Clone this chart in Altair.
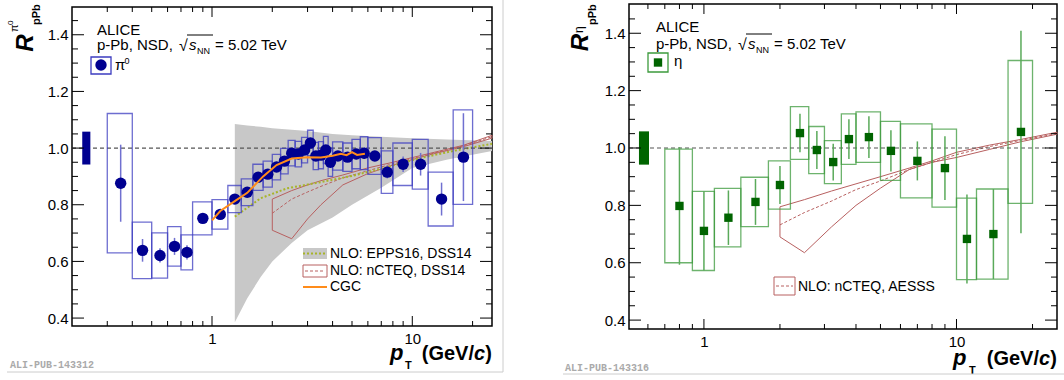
import altair as alt
import pandas as pd

FONT = "Liberation Sans"

# ---------------- pi0 panel data ----------------
pi0_pt = [0.35, 0.45, 0.55, 0.65, 0.75, 0.9, 1.1, 1.3, 1.5, 1.7, 1.9, 2.1, 2.3, 2.5, 2.7, 2.9,
          3.1, 3.3, 3.5, 3.7, 3.9, 4.25, 4.75, 5.25, 5.75, 6.5, 7.5, 9.0, 11.0, 14.0, 18.0]
pi0_r = [0.876, 0.639, 0.621, 0.653, 0.632, 0.752, 0.766, 0.82, 0.844, 0.897, 0.908, 0.933, 0.954,
         0.982, 0.979, 0.993, 1.018, 0.972, 0.975, 0.993, 0.95, 0.972, 0.968, 0.979, 0.982, 0.972,
         0.915, 0.943, 0.943, 0.82, 0.968]
pi0_stat = [0.136, 0.04, 0.025, 0.03, 0.025, 0.015, 0.015, 0.015, 0.012, 0.012, 0.012, 0.012, 0.012,
            0.012, 0.012, 0.012, 0.014, 0.015, 0.015, 0.018, 0.02, 0.015, 0.016, 0.018, 0.02, 0.015,
            0.022, 0.027, 0.04, 0.058, 0.155]
pi0_sys = [0.246, 0.1, 0.08, 0.07, 0.062, 0.058, 0.052, 0.048, 0.047, 0.046, 0.046, 0.045, 0.045,
           0.045, 0.045, 0.045, 0.045, 0.048, 0.048, 0.048, 0.05, 0.05, 0.05, 0.052, 0.058, 0.065,
           0.075, 0.075, 0.088, 0.095, 0.167]
pi0_bin_lo = [0.3, 0.4, 0.5, 0.6, 0.7, 0.8, 1.0, 1.2, 1.4, 1.6, 1.8, 2.0, 2.2, 2.4, 2.6, 2.8,
              3.0, 3.2, 3.4, 3.6, 3.8, 4.0, 4.5, 5.0, 5.5, 6.0, 7.0, 8.0, 10.0, 12.0, 16.0]
pi0_bin_hi = [0.4, 0.5, 0.6, 0.7, 0.8, 1.0, 1.2, 1.4, 1.6, 1.8, 2.0, 2.2, 2.4, 2.6, 2.8, 3.0,
              3.2, 3.4, 3.6, 3.8, 4.0, 4.5, 5.0, 5.5, 6.0, 7.0, 8.0, 10.0, 12.0, 16.0, 20.0]

# EPPS16 band + central
epps_pt = [1.3, 1.5, 1.75, 2.0, 2.5, 3.0, 4.0, 5.0, 7.0, 10.0, 15.0, 25.0]
epps_lo = [0.385, 0.47, 0.545, 0.6, 0.665, 0.71, 0.755, 0.8, 0.86, 0.93, 0.96, 0.99]
epps_hi = [1.085, 1.08, 1.075, 1.07, 1.065, 1.06, 1.05, 1.045, 1.04, 1.035, 1.03, 1.025]
epps_c_pt = [1.3, 1.75, 2.37, 3.5, 5.1, 7.5, 11.0, 16.0, 25.0]
epps_c = [0.758, 0.823, 0.858, 0.88, 0.903, 0.933, 0.965, 0.99, 1.015]

# nCTEQ (pi0)
ncq1_pt = [2.0, 2.5, 3.0, 3.5, 4.5, 6.0, 8.0, 12.0, 18.0, 25.0]
ncq1_hi = [0.82, 0.85, 0.87, 0.885, 0.905, 0.93, 0.95, 0.98, 1.01, 1.045]
ncq1_lo = [0.71, 0.68, 0.75, 0.8, 0.87, 0.91, 0.94, 0.975, 1.005, 1.035]
ncq1_c = [0.77, 0.82, 0.845, 0.865, 0.895, 0.92, 0.945, 0.977, 1.008, 1.04]

# CGC
cgc_pt = [1.0, 1.1, 1.3, 1.5, 1.8, 2.1, 2.5, 3.0, 3.5, 4.0, 4.4, 4.7, 5.0, 5.3, 5.8]
cgc_r = [0.745, 0.778, 0.813, 0.842, 0.9, 0.94, 0.963, 0.968, 0.967, 0.973, 0.98, 0.975, 0.986,
         0.976, 0.98]

# ---------------- eta panel data ----------------
eta_pt = [0.8, 1.0, 1.25, 1.6, 2.0, 2.4, 2.8, 3.25, 3.75, 4.5, 5.5, 7.0, 9.0, 11.0, 14.0, 18.0]
eta_r = [0.798, 0.711, 0.757, 0.812, 0.871, 1.052, 0.993, 0.951, 1.031, 1.038, 0.99, 0.955, 0.93,
         0.683, 0.7, 1.056]
eta_stat = [0.205, 0.138, 0.095, 0.08, 0.066, 0.067, 0.066, 0.064, 0.069, 0.073, 0.072, 0.068, 0.111,
            0.155, 0.157, 0.353]
eta_sys = [0.198, 0.138, 0.102, 0.086, 0.084, 0.092, 0.082, 0.075, 0.088, 0.088, 0.103, 0.129, 0.136,
           0.142, 0.157, 0.249]
eta_bin_lo = [0.7, 0.9, 1.1, 1.4, 1.8, 2.2, 2.6, 3.0, 3.5, 4.0, 5.0, 6.0, 8.0, 10.0, 12.0, 16.0]
eta_bin_hi = [0.9, 1.1, 1.4, 1.8, 2.2, 2.6, 3.0, 3.5, 4.0, 5.0, 6.0, 8.0, 10.0, 12.0, 16.0, 20.0]

# nCTEQ (eta)
ncq2_pt = [2.0, 2.5, 3.2, 4.0, 5.0, 6.5, 8.0, 10.0, 13.5, 18.0, 25.0]
ncq2_hi = [0.795, 0.82, 0.85, 0.875, 0.9, 0.93, 0.955, 0.985, 1.01, 1.03, 1.055]
ncq2_lo = [0.69, 0.635, 0.725, 0.8, 0.86, 0.925, 0.95, 0.967, 0.995, 1.022, 1.048]
ncq2_c = [0.732, 0.775, 0.815, 0.855, 0.885, 0.925, 0.95, 0.977, 1.005, 1.027, 1.05]

# normalisation boxes
norm1_pt = [0.225, 0.247]
norm2_pt = [0.553, 0.606]
norm_r = [0.942, 1.058]

# ticks
y_major = [0.4, 0.6, 0.8, 1.0, 1.2, 1.4]
y_minor = [0.45, 0.5, 0.55, 0.65, 0.7, 0.75, 0.85, 0.9, 0.95, 1.05, 1.1, 1.15, 1.25, 1.3, 1.35, 1.45]
x_major = [1, 10]
x_minor1 = [0.3, 0.4, 0.5, 0.6, 0.7, 0.8, 0.9, 2, 3, 4, 5, 6, 7, 8, 9, 20]
x_minor2 = [0.6, 0.7, 0.8, 0.9, 2, 3, 4, 5, 6, 7, 8, 9, 20]

BLUE = "#000090"
GREEN = "#006400"
BROWN = "#b86060"
ORANGE = "#ff8c1a"
OLIVE = "#a8b42a"


def points_df(pt, r, stat, sys, blo, bhi):
    return pd.DataFrame({
        "pt": pt, "r": r,
        "slo": [a - b for a, b in zip(r, stat)], "shi": [a + b for a, b in zip(r, stat)],
        "ylo": [a - b for a, b in zip(r, sys)], "yhi": [a + b for a, b in zip(r, sys)],
        "blo": blo, "bhi": bhi,
    })


def polygon_df(pt, hi, lo):
    xs = list(pt) + list(reversed(pt)) + [pt[0]]
    ys = list(hi) + list(reversed(lo)) + [hi[0]]
    return pd.DataFrame({"pt": xs, "r": ys, "o": list(range(len(xs)))})


def txt(s, x, y, size=15, weight="normal", style="normal", align="left",
        baseline="alphabetic", angle=0, color="black", font=FONT):
    return alt.Chart(pd.DataFrame({"t": [s]})).mark_text(
        align=align, baseline=baseline, fontSize=size, fontWeight=weight,
        fontStyle=style, angle=angle, color=color, font=font
    ).encode(text="t:N", x=alt.value(x), y=alt.value(y))


def hline(x1, x2, y, color, width=1.0, dash=None):
    kw = dict(color=color, strokeWidth=width)
    if dash:
        kw["strokeDash"] = dash
    return alt.Chart(pd.DataFrame({"a": [0]})).mark_rule(**kw).encode(
        x=alt.value(x1), x2=alt.value(x2), y=alt.value(y))


def vline(x, y1, y2, color, width=1.0):
    return alt.Chart(pd.DataFrame({"a": [0]})).mark_rule(color=color, strokeWidth=width).encode(
        x=alt.value(x), y=alt.value(y1), y2=alt.value(y2))


def box(x1, x2, y1, y2, fill=None, stroke=None, sw=1.0):
    kw = dict(strokeWidth=sw)
    if fill:
        kw["fill"] = fill
    else:
        kw["fillOpacity"] = 0
        kw["fill"] = "white"
    if stroke:
        kw["stroke"] = stroke
    return alt.Chart(pd.DataFrame({"a": [0]})).mark_rect(**kw).encode(
        x=alt.value(x1), x2=alt.value(x2), y=alt.value(y1), y2=alt.value(y2))


def build_panel(W, H, xdom, ydom, df, color, box_color, stat_color, shape, norm_pt,
                theory_layers, top_layers, x_minor):
    xs = alt.Scale(type="log", domain=xdom, nice=False)
    ys = alt.Scale(domain=ydom, nice=False, zero=False)
    xax = alt.Axis(values=x_major, format="~g", labelFontSize=15, labelFont=FONT,
                   labelColor="black", ticks=False, tickSize=0, domain=False, grid=False,
                   labelPadding=5, labelFlush=False, labelOverlap=False, title=None)
    yax = alt.Axis(values=y_major, format=".1f", labelFontSize=15, labelFont=FONT,
                   labelColor="black", ticks=False, tickSize=0, domain=False, grid=False,
                   labelPadding=4, labelFlush=False, labelOverlap=False, title=None)

    def X(f):
        return alt.X(f, type="quantitative", scale=xs, axis=xax)

    def Y(f):
        return alt.Y(f, type="quantitative", scale=ys, axis=yax)

    def theory(spec):
        out = []
        for kind, d, kw in spec:
            if kind == "band":
                out.append(alt.Chart(d).mark_area(**kw).encode(x=X("pt"), y=Y("lo"), y2="hi"))
            else:
                out.append(alt.Chart(d).mark_line(**kw).encode(x=X("pt"), y=Y("r"), order="o:Q"))
        return out

    layers = theory(theory_layers)
    # reference line at 1
    layers.append(alt.Chart(pd.DataFrame({"v": [1.0]})).mark_rule(
        color="#555555", strokeWidth=1.2, strokeDash=[4, 3]).encode(
        y=Y("v"), x=alt.value(0), x2=alt.value(W)))
    # systematic boxes
    layers.append(alt.Chart(df).mark_rect(fill="white", fillOpacity=0, stroke=box_color,
                                          strokeOpacity=0.75, strokeWidth=1.3).encode(
        x=X("blo"), x2="bhi", y=Y("ylo"), y2="yhi"))
    # stat bars
    layers.append(alt.Chart(df).mark_rule(color=stat_color, strokeWidth=1.5).encode(
        x=X("pt"), y=Y("slo"), y2="shi"))
    # points
    if shape == "circle":
        layers.append(alt.Chart(df).mark_circle(size=130, color=color, opacity=1).encode(
            x=X("pt"), y=Y("r")))
    else:
        layers.append(alt.Chart(df).mark_square(size=70, color=color, opacity=1).encode(
            x=X("pt"), y=Y("r")))
    layers += theory(top_layers)
    # normalisation box
    ndf = pd.DataFrame({"x1": [norm_pt[0]], "x2": [norm_pt[1]], "y1": [norm_r[0]], "y2": [norm_r[1]]})
    layers.append(alt.Chart(ndf).mark_rect(color=color).encode(
        x=X("x1"), x2="x2", y=Y("y1"), y2="y2"))
    # inward ticks
    ymaj = pd.DataFrame({"v": y_major})
    ymin = pd.DataFrame({"v": y_minor})
    xmaj = pd.DataFrame({"v": x_major})
    xmin = pd.DataFrame({"v": x_minor})
    tk = dict(color="black", strokeWidth=1)
    layers += [
        alt.Chart(ymaj).mark_rule(**tk).encode(y=Y("v"), x=alt.value(0), x2=alt.value(12)),
        alt.Chart(ymin).mark_rule(**tk).encode(y=Y("v"), x=alt.value(0), x2=alt.value(6)),
        alt.Chart(ymaj).mark_rule(**tk).encode(y=Y("v"), x=alt.value(W), x2=alt.value(W - 12)),
        alt.Chart(ymin).mark_rule(**tk).encode(y=Y("v"), x=alt.value(W), x2=alt.value(W - 6)),
        alt.Chart(xmaj).mark_rule(**tk).encode(x=X("v"), y=alt.value(H), y2=alt.value(H - 10)),
        alt.Chart(xmin).mark_rule(**tk).encode(x=X("v"), y=alt.value(H), y2=alt.value(H - 5)),
        alt.Chart(xmaj).mark_rule(**tk).encode(x=X("v"), y=alt.value(0), y2=alt.value(10)),
        alt.Chart(xmin).mark_rule(**tk).encode(x=X("v"), y=alt.value(0), y2=alt.value(5)),
    ]
    return layers


# ---------- left panel ----------
W1, H1 = 420, 319
df1 = points_df(pi0_pt, pi0_r, pi0_stat, pi0_sys, pi0_bin_lo, pi0_bin_hi)
band_df = pd.DataFrame({"pt": epps_pt, "lo": epps_lo, "hi": epps_hi})
eppsc_df = pd.DataFrame({"pt": epps_c_pt, "r": epps_c, "o": list(range(len(epps_c)))})
ncq1_poly = polygon_df(ncq1_pt, ncq1_hi, ncq1_lo)
ncq1_cdf = pd.DataFrame({"pt": ncq1_pt, "r": ncq1_c, "o": list(range(len(ncq1_c)))})
cgc_df = pd.DataFrame({"pt": cgc_pt, "r": cgc_r, "o": list(range(len(cgc_r)))})

theory1 = [
    ("band", band_df, dict(color="#c8c8c8", opacity=1)),
    ("line", ncq1_poly, dict(color=BROWN, strokeWidth=1)),
    ("line", ncq1_cdf, dict(color=BROWN, strokeWidth=1, strokeDash=[3, 2])),
    ("line", eppsc_df, dict(color=OLIVE, strokeWidth=2, strokeDash=[2, 2])),
]
top1 = [("line", cgc_df, dict(color=ORANGE, strokeWidth=2))]
layers1 = build_panel(W1, H1, [0.2, 25], [0.372, 1.498], df1, BLUE, "#3c3cc0", "#7070d0",
                      "circle", norm1_pt, theory1, top1, x_minor1)

layers1 += [
    txt("ALICE", 25, 28),
    txt("p-Pb, NSD, ", 25, 43),
    txt("√", 107, 44, size=16),
    hline(115, 141, 28, "black", 1),
    txt("s", 117, 43, style="italic"),
    txt("NN", 125, 47, size=9),
    txt("= 5.02 TeV", 143, 43),
    box(19, 39, 50, 67, stroke="#3c3cc0", sw=1.3),
    alt.Chart(pd.DataFrame({"a": [0]})).mark_circle(size=130, color=BLUE, opacity=1).encode(
        x=alt.value(29), y=alt.value(58)),
    txt("π", 43, 63),
    txt("0", 52.5, 57, size=9),
    # lower legend
    box(231, 255, 241, 252, fill="#c8c8c8"),
    hline(231, 255, 246.5, OLIVE, 2, [2, 2]),
    txt("NLO: EPPS16, DSS14", 258, 247, size=14, baseline="middle"),
    box(231, 255, 258, 270, stroke=BROWN, sw=1),
    hline(233, 253, 264, BROWN, 1, [3, 2]),
    txt("NLO: nCTEQ, DSS14", 258, 264, size=14, baseline="middle"),
    hline(231, 255, 280, ORANGE, 2),
    txt("CGC", 258, 280, size=14, baseline="middle"),
    # axis titles
    txt("p", 318, 353, size=22, weight="bold", style="italic"),
    txt("T", 333, 362, size=11, weight="bold"),
    txt(")", 420, 353, size=20, weight="bold", align="right"),
    txt("c", 413, 353, size=20, weight="bold", style="italic", align="right"),
    txt("(GeV/", 402, 353, size=20, weight="bold", align="right"),
    txt("R", -39, 36, size=24, weight="bold", style="italic", align="center", angle=270),
    txt("pPb", -32, 18, size=11, weight="bold", angle=270),
    txt("π", -54, 25, size=11, angle=270),
    txt("0", -59, 18, size=8, angle=270),
    # watermark + frame
    txt("ALI-PUB-143312", -62, 358, size=10, weight="bold", color="#aaaaaa",
        font="Liberation Mono", baseline="middle"),
    hline(-65, 431, 365, "#cccccc", 1),
    vline(431, -7, 365, "#cccccc", 1),
]
left = alt.layer(*layers1).properties(width=W1, height=H1)

# ---------- right panel ----------
W2, H2 = 428, 325
df2 = points_df(eta_pt, eta_r, eta_stat, eta_sys, eta_bin_lo, eta_bin_hi)
ncq2_poly = polygon_df(ncq2_pt, ncq2_hi, ncq2_lo)
ncq2_cdf = pd.DataFrame({"pt": ncq2_pt, "r": ncq2_c, "o": list(range(len(ncq2_c)))})
theory2 = [
    ("line", ncq2_poly, dict(color=BROWN, strokeWidth=1)),
    ("line", ncq2_cdf, dict(color=BROWN, strokeWidth=1, strokeDash=[3, 2])),
]
layers2 = build_panel(W2, H2, [0.505, 25], [0.369, 1.502], df2, GREEN, "#3c9a3c", "#5aaa5a",
                      "square", norm2_pt, theory2, [], x_minor2)
layers2 += [
    txt("ALICE", 27, 28),
    txt("p-Pb, NSD, ", 27, 45),
    txt("√", 109, 46, size=16),
    hline(117, 143, 30, "black", 1),
    txt("s", 119, 45, style="italic"),
    txt("NN", 127, 49, size=9),
    txt("= 5.02 TeV", 145, 45),
    box(19, 39, 49, 68, stroke="#3c9a3c", sw=1.3),
    alt.Chart(pd.DataFrame({"a": [0]})).mark_square(size=70, color=GREEN, opacity=1).encode(
        x=alt.value(29), y=alt.value(58.5)),
    txt("η", 45, 62),
    box(145, 166, 273, 291, stroke=BROWN, sw=1),
    hline(147, 164, 282, BROWN, 1, [3, 2]),
    txt("NLO: nCTEQ, AESSS", 169, 283, size=14, baseline="middle"),
    txt("p", 324, 361, size=22, weight="bold", style="italic"),
    txt("T", 340, 370, size=11, weight="bold"),
    txt(")", 428, 361, size=20, weight="bold", align="right"),
    txt("c", 421, 361, size=20, weight="bold", style="italic", align="right"),
    txt("(GeV/", 410, 361, size=20, weight="bold", align="right"),
    txt("R", -41, 38.5, size=24, weight="bold", style="italic", align="center", angle=270),
    txt("pPb", -33, 21, size=11, weight="bold", angle=270),
    txt("η", -46, 29, size=12, angle=270),
    txt("ALI-PUB-143316", -64, 364, size=10, weight="bold", color="#aaaaaa",
        font="Liberation Mono", baseline="middle"),
    hline(-66, 435, 370, "#cccccc", 1),
]
right = alt.layer(*layers2).properties(width=W2, height=H2)

chart = alt.hconcat(left, right, spacing=137, center=True, bounds="flush").properties(
    autosize=alt.AutoSizeParams(type="none"),
    padding={"left": 72, "top": 4, "right": 992, "bottom": 376},
    background="white",
).configure_view(stroke="black", strokeWidth=1.5)

chart.save("out.html", embed_options={"renderer": "svg", "actions": False})
